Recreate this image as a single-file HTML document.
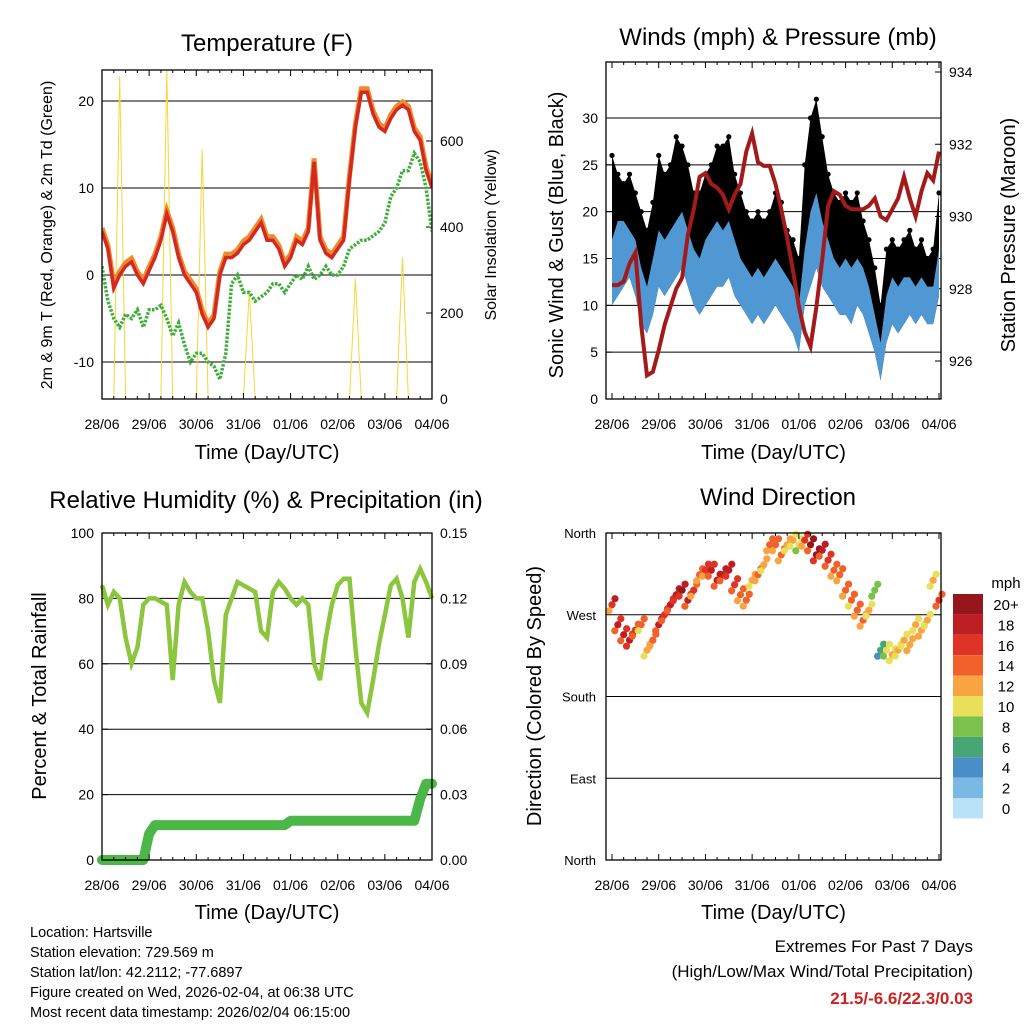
<!DOCTYPE html>
<html><head><meta charset="utf-8">
<style>
html,body{margin:0;padding:0;background:#fff;}
svg{display:block;font-family:"Liberation Sans",sans-serif;}
</style></head>
<body>
<svg id="c" width="1024" height="1024" viewBox="0 0 1024 1024" xmlns="http://www.w3.org/2000/svg"></svg>
<script>
// ---- data (3-hourly, 57 points from 28/06 00 UTC to 04/06 00 UTC) ----
var dayLabels = ["28/06","29/06","30/06","31/06","01/06","02/06","03/06","04/06"];
var tempT = [5,3,-1.5,0,1,1.5,0,-1,0.5,2,4,7,5,2,0,-1,-2,-4.5,-6,-5,0,2,2,2.5,3.5,4,5,6,4,4,3,1,2,4,3.5,5,13,4,2.5,2,3,4,11,17,21,21,18.5,17,16.5,18,19,19.5,19,16.5,15.5,12,10];
var tempTd = [1,-3,-5,-6,-4.5,-5,-4,-6,-4,-4,-3.5,-5,-7,-5.5,-8,-10,-9,-9,-10,-10.5,-12,-9,-1,0,-2,-2,-3,-2.5,-2,-1,-1,-2,-1,0,-0.5,1,-0.5,0,1,0,0,1,3,3.5,4,4,4.5,5,6,9,10,12,12,14,13,10,5];
var solar = [0,0,0,750,0,0,0,0,0,0,0,765,0,0,0,0,0,580,0,0,0,0,0,0,0,250,0,0,0,0,0,0,0,0,0,0,0,0,0,0,0,0,0,280,0,0,0,0,0,0,0,330,0,0,0,0,0];
var windLo = [10,11,12,13,11,8,7,9,12,11,12,13,14,12,10,9,10,11,12,12,13,11,10,9,8,9,8,9,10,9,8,7,5,10,12,14,12,11,10,9,9,8,10,9,7,5,2,6,8,7,8,9,8,9,8,8,11];
var windHi = [17,19,19,18,17,14,12,15,18,17,18,19,20,18,16,15,17,18,19,18,19,17,15,14,13,14,13,14,15,14,13,12,10,16,20,22,19,17,15,14,15,14,15,14,12,9,6,11,13,12,13,13,12,13,12,12,16];
var gust = [26,24,23,24,22,20,18,21,26,24,25,28,27,25,22,22,24,25,27,27,28,24,22,20,19,20,19,20,22,21,18,17,15,25,30,32,28,24,22,21,22,21,22,19,17,14,10,16,17,16,17,18,16,17,15,16,22];
var pressure = [928.1,928.1,928.2,928.7,929.0,927.0,925.6,925.7,926.3,927.0,927.5,928.0,928.3,929.5,930.2,931.1,931.2,930.9,930.8,930.6,930.2,930.6,930.9,931.8,932.3,931.5,931.4,931.4,930.9,930.2,929.4,928.5,927.5,926.8,926.4,927.5,928.8,930.3,930.7,930.6,930.3,930.2,930.2,930.2,930.3,930.5,930.0,929.9,930.2,930.5,931.1,930.5,930.0,930.7,931.2,931.0,931.8];
var rh = [84,78,82,80,68,60,65,78,80,80,79,78,55,78,85,82,80,80,70,55,48,75,80,85,84,83,82,70,68,82,85,83,80,78,80,78,60,55,68,78,84,86,86,65,48,45,55,66,75,84,86,80,68,85,89,85,80];
var precip = [0,0,0,0,0,0,0,0,0.012,0.016,0.016,0.016,0.016,0.016,0.016,0.016,0.016,0.016,0.016,0.016,0.016,0.016,0.016,0.016,0.016,0.016,0.016,0.016,0.016,0.016,0.016,0.016,0.018,0.018,0.018,0.018,0.018,0.018,0.018,0.018,0.018,0.018,0.018,0.018,0.018,0.018,0.018,0.018,0.018,0.018,0.018,0.018,0.018,0.018,0.028,0.035,0.035];
var windDir = [281,259,248,242,253,259,231,242,259,270,281,292,297,286,297,314,319,319,308,314,319,303,292,286,308,314,325,347,347,336,347,352,347,352,347,336,341,330,319,314,297,286,275,264,275,297,231,231,226,231,242,237,259,253,264,308,286];
var cbLabels = ["20+","18","16","14","12","10","8","6","4","2","0"];
var cbColors = ["#95161b","#bd1e24","#df3326","#f0622a","#f8a443","#e8e05a","#7bc24c","#47a673","#4a8ec7","#7ab9e4","#b7e2f7"];

var NS="http://www.w3.org/2000/svg", svg=document.getElementById('c');
function el(tag,attrs,parent){var e=document.createElementNS(NS,tag);for(var k in attrs)e.setAttribute(k,attrs[k]);(parent||svg).appendChild(e);return e;}
function txt(s,x,y,size,anchor,parent,extra){var t=el('text',Object.assign({x:x,y:y,'font-size':size,'text-anchor':anchor||'middle',fill:'#000'},extra||{}),parent);t.textContent=s;return t;}
function lin(d0,d1,r0,r1){return function(v){return r0+(v-d0)*(r1-r0)/(d1-d0);};}
function ptsPath(xs,ys){return xs.map(function(x,i){return (i?'L':'M')+x.toFixed(1)+','+ys[i].toFixed(1);}).join('');}

function panel(name,x0,x1,y0,y1){
  var g=el('g',{});
  
  
  return {g:g,x0:x0,x1:x1,y0:y0,y1:y1};
}
function frame(p){el('rect',{x:p.x0,y:p.y0,width:p.x1-p.x0,height:p.y1-p.y0,fill:'none',stroke:'#000','stroke-width':1.3},p.g);}
function xAxis(p,xs,title,titleY){
  var ax=el('g',{},p.g);
  
  
  dayLabels.forEach(function(l,d){var x=xs(d);
    el('line',{x1:x,y1:p.y1,x2:x,y2:p.y1-6,stroke:'#000'},ax);
    el('line',{x1:x,y1:p.y0,x2:x,y2:p.y0+6,stroke:'#000'},ax);
    if(d<7){for(var k=1;k<4;k++){var xm=xs(d+k/4);el('line',{x1:xm,y1:p.y1,x2:xm,y2:p.y1-3,stroke:'#000'},ax);el('line',{x1:xm,y1:p.y0,x2:xm,y2:p.y0+3,stroke:'#000'},ax);}}
    txt(l,x,p.y1+30,14,'middle',ax);
  });
  var t=txt(title,(p.x0+p.x1)/2,titleY,20,'middle',ax);
  
  
}
function yTicks(p,vals,ys,side,fmt,grid,name,labelDx){
  var ax=el('g',{},p.g);
  
  
  vals.forEach(function(v){var y=ys(v);
    var xa=side==='left'?p.x0:p.x1, dir=side==='left'?1:-1;
    el('line',{x1:xa,y1:y,x2:xa+dir*6,y2:y,stroke:'#000'},ax);
    if(grid)el('line',{x1:p.x0,y1:y,x2:p.x1,y2:y,stroke:'#000','stroke-width':1},ax);
    txt(fmt(v),side==='left'?xa-labelDx:xa+labelDx,y+5,14,side==='left'?'end':'start',ax);
  });
}
function yTitle(s,x,y,size,name){var t=txt(s,x,y,size,'middle',svg,{transform:'rotate(-90 '+x+' '+y+')'});
  }
function title(s,x,y,name){var t=txt(s,x,y,24,'middle');}
var idx=tempT.map(function(_,i){return i/8;});

// ---------- Panel 1: Temperature ----------
(function(){
  var p=panel('temperature-chart',102,432,70,399);
  var xs=lin(0,7,102,432), ys=lin(0,10,275,188), ys2=lin(0,600,399,141);
  var cp=el('clipPath',{id:'cp1'},p.g);
  el('rect',{x:102,y:70,width:330,height:329},cp);
  yTicks(p,[-10,0,10,20],ys,'left',String,true,'y-axis-left',8);
  yTicks(p,[0,200,400,600],ys2,'right',String,false,'y-axis-right',8);
  var gd=el('g',{'clip-path':'url(#cp1)'},p.g);
  var sp=el('path',{d:ptsPath(idx.map(xs),solar.map(ys2)),fill:'none',stroke:'#f5d63a','stroke-width':1},gd);
  
  var dp=el('path',{d:ptsPath(idx.map(xs),tempTd.map(ys)),fill:'none',stroke:'#3fae3a','stroke-width':3.5,'stroke-dasharray':'2.5 1.5'},gd);
  
  var op=el('path',{d:ptsPath(idx.map(xs),tempT.map(function(v){return ys(v+0.4);})),fill:'none',stroke:'#f08a2c','stroke-width':5},gd);
  
  var rp=el('path',{d:ptsPath(idx.map(xs),tempT.map(ys)),fill:'none',stroke:'#d22a22','stroke-width':3.5},gd);
  
  frame(p);
  xAxis(p,xs,'Time (Day/UTC)',459);
  title('Temperature (F)',267,51,'temperature-title');
  yTitle('2m & 9m T (Red, Orange) & 2m Td (Green)',52,235,16,'temperature-y-title');
  yTitle('Solar Insolation (Yellow)',496,235,16,'solar-y-title');
})();

// ---------- Panel 2: Winds ----------
(function(){
  var p=panel('winds-pressure-chart',606,941,62,399);
  var xs=lin(0,7,612,939), ys=lin(0,30,399,118), ys2=lin(926,934,361,72);
  yTicks(p,[0,5,10,15,20,25,30],ys,'left',String,true,'y-axis-left',8);
  yTicks(p,[926,928,930,932,934],ys2,'right',String,false,'y-axis-right',8);
  var X=idx.map(xs);
  var gb=el('path',{d:ptsPath(X,gust.map(ys))+'L'+ptsPath(X.slice().reverse(),windLo.slice().reverse().map(ys)).slice(1)+'Z',fill:'#000'},p.g);
  
  gust.forEach(function(v,i){var c=el('circle',{cx:X[i],cy:ys(v),r:2.6,fill:'#000'},p.g);
    });
  var wb=el('path',{d:ptsPath(X,windHi.map(ys))+'L'+ptsPath(X.slice().reverse(),windLo.slice().reverse().map(ys)).slice(1)+'Z',fill:'#4f98d4'},p.g);
  
  var pp=el('path',{d:ptsPath(X,pressure.map(ys2)),fill:'none',stroke:'#a31a1a','stroke-width':4},p.g);
  
  frame(p);
  xAxis(p,xs,'Time (Day/UTC)',459);
  title('Winds (mph) & Pressure (mb)',778,45,'winds-title');
  yTitle('Sonic Wind & Gust (Blue, Black)',563,235,20,'wind-y-title');
  yTitle('Station Pressure (Maroon)',1015,235,20,'pressure-y-title');
})();

// ---------- Panel 3: RH & Precip ----------
(function(){
  var p=panel('humidity-precip-chart',102,432,533,860);
  var xs=lin(0,7,102,432), ys=lin(0,100,860,533), ys2=lin(0,0.15,860,533);
  yTicks(p,[0,20,40,60,80,100],ys,'left',String,true,'y-axis-left',8);
  yTicks(p,[0,0.03,0.06,0.09,0.12,0.15],ys2,'right',function(v){return v.toFixed(2);},false,'y-axis-right',8);
  var X=idx.map(xs);
  var rp=el('path',{d:ptsPath(X,rh.map(ys)),fill:'none',stroke:'#8cc63f','stroke-width':4.5},p.g);
  
  var pr=el('path',{d:ptsPath(X,precip.map(ys2)),fill:'none',stroke:'#4cb648','stroke-width':10,'stroke-linecap':'round','stroke-linejoin':'round'},p.g);
  
  frame(p);
  xAxis(p,xs,'Time (Day/UTC)',919);
  title('Relative Humidity (%) & Precipitation (in)',266,508,'humidity-title');
  yTitle('Percent & Total Rainfall',46,696,20,'humidity-y-title');
})();

// ---------- Panel 4: Wind direction ----------
(function(){
  var p=panel('wind-direction-chart',606,941,533,860);
  var xs=lin(0,7,612,939), ys=lin(0,360,860,533);
  var dirLabels=['North','East','South','West','North'];
  var ax=el('g',{},p.g);
  
  [0,90,180,270,360].forEach(function(v,i){var y=ys(v);
    el('line',{x1:p.x0,y1:y,x2:p.x1,y2:y,stroke:'#000'},ax);
    txt(dirLabels[i],596,y+5,13,'end',ax);});
  function col(s){var k=Math.min(10,Math.max(0,Math.floor(s/2)));return cbColors[10-k];}
  var X=idx.map(xs);
  windDir.forEach(function(d,i){
    [[0,0],[3,-6],[-3,6]].forEach(function(o,j){
      var c=el('circle',{cx:X[i]+o[0],cy:ys(d)+o[1],r:3.6,fill:col(j===0?windHi[i]:(j===1?gust[i]*0.7:windLo[i]+3))},p.g);
      
    });
  });
  frame(p);
  xAxis(p,xs,'Time (Day/UTC)',919);
  title('Wind Direction',778,505,'wind-direction-title');
  yTitle('Direction (Colored By Speed)',541,696,20,'direction-y-title');
  var cb=el('g',{});
  
  txt('mph',1006,588,15,'middle',cb);
  cbColors.forEach(function(c,i){var y=594+i*20.4;
    el('rect',{x:953,y:y,width:30,height:20.4,fill:c},cb);
    txt(cbLabels[i],1006,y+16,15,'middle',cb);});
})();

// ---------- Footer ----------
var foot=el('g',{});

["Location: Hartsville","Station elevation: 729.569 m","Station lat/lon: 42.2112; -77.6897","Figure created on Wed, 2026-02-04, at 06:38 UTC","Most recent data timestamp: 2026/02/04 06:15:00"].forEach(function(s,i){txt(s,30,937+i*20,14.5,'start',foot);});
var ex=el('g',{});

txt('Extremes For Past 7 Days',973,952,17,'end',ex);
txt('(High/Low/Max Wind/Total Precipitation)',973,977,17,'end',ex);
txt('21.5/-6.6/22.3/0.03',973,1004,17,'end',ex,{fill:'#cc2222','font-weight':'bold'});
</script>
</body></html>
